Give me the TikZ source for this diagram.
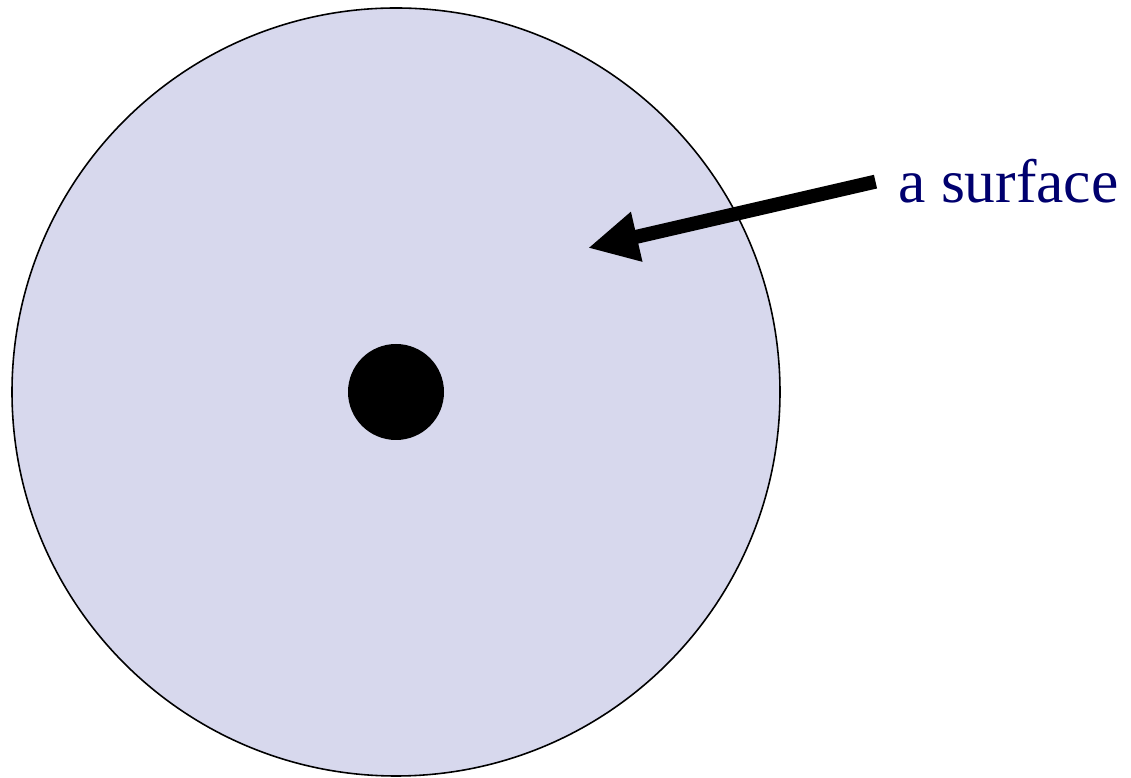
\documentclass[tikz,border=0pt]{standalone}
\usepackage{fontspec}
\setmainfont{Liberation Serif}
\usetikzlibrary{arrows.meta, positioning}
\definecolor{diskfill}{RGB}{215,216,237}
\definecolor{navytext}{RGB}{0,0,110}

\begin{document}
\begin{tikzpicture}[
  disk/.style={circle, draw=black, line width=0.9pt, fill=diskfill, minimum size=15.36cm, inner sep=0pt},
  charge/.style={circle, fill=black, minimum size=1.92cm, inner sep=0pt},
  lbl/.style={font=\fontsize{35}{40}\selectfont, text=navytext, inner sep=0pt},
  arr/.style={-{Triangle[length=1cm, width=0.95cm]}, line width=0.28cm}
]
\useasboundingbox (0,0) rectangle (22.62,15.56);

\node[disk]   (surf) at (7.92,7.72) {};
\node[charge] (q)    at (surf.center) {};

\node[lbl, anchor=base west] (name) at (17.96,11.5) {a surface};
\coordinate (tip) at (11.76,10.6);

\draw[arr] ([xshift=-0.45cm]name.west) -- (tip);
\end{tikzpicture}
\end{document}
